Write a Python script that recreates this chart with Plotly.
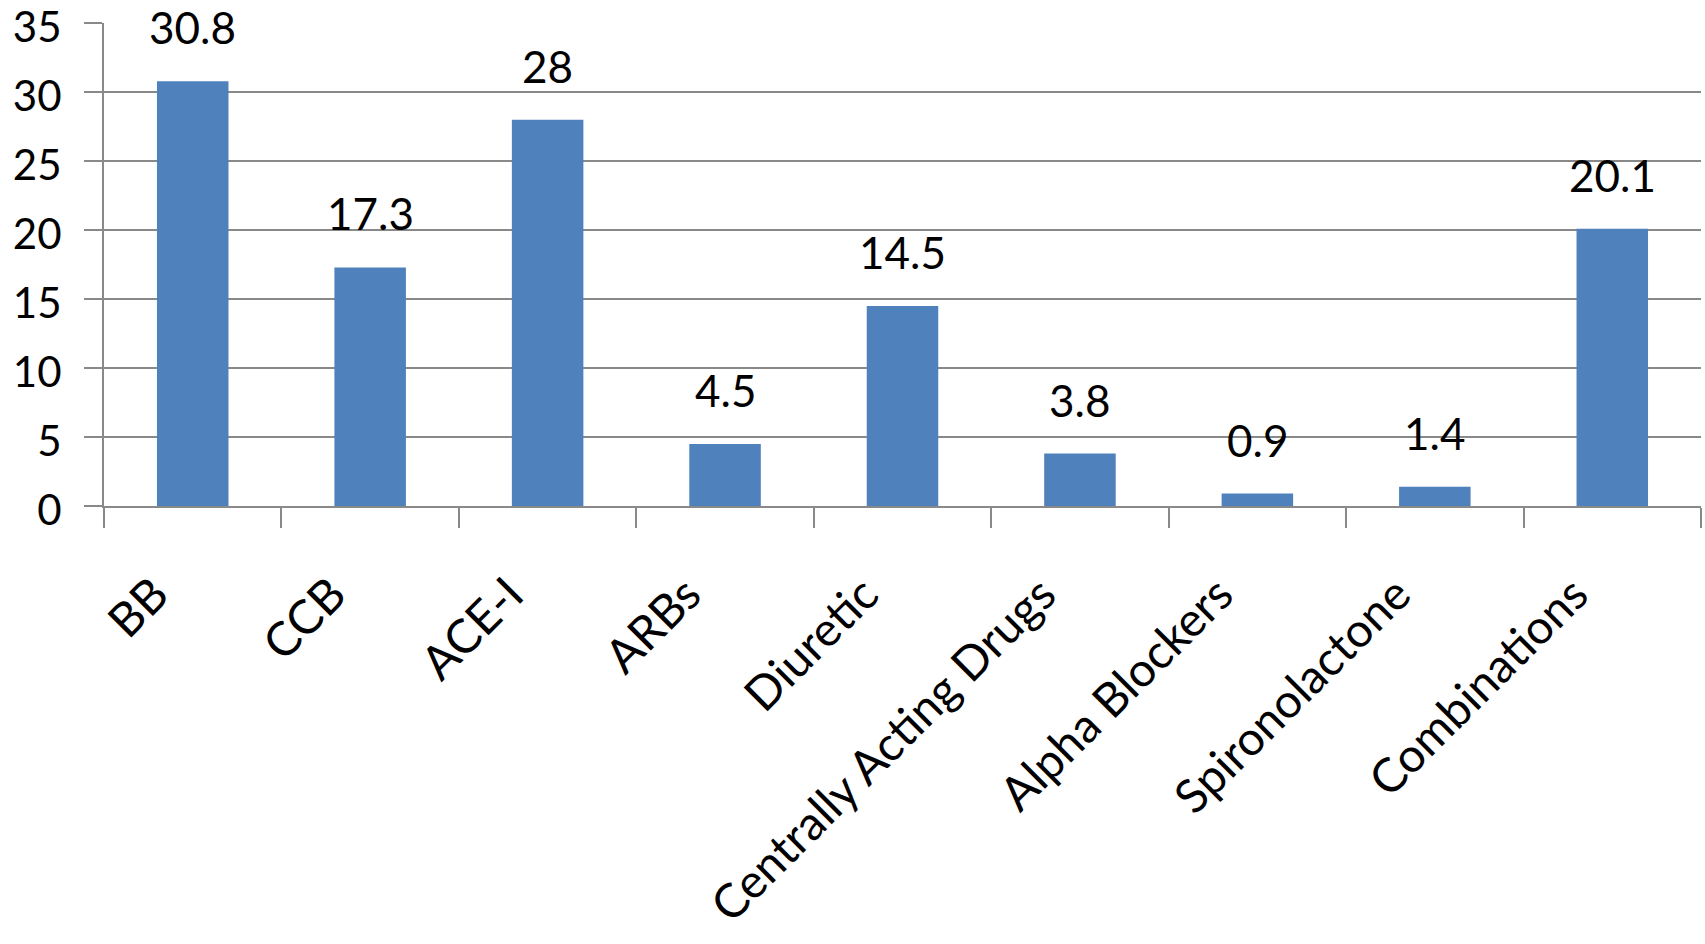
import plotly.graph_objects as go

categories = ["BB", "CCB", "ACE-I", "ARBs", "Diuretic", "Centrally Acting Drugs",
              "Alpha Blockers", "Spironolactone", "Combinations"]
values = [30.8, 17.3, 28, 4.5, 14.5, 3.8, 0.9, 1.4, 20.1]
value_labels = ["30.8", "17.3", "28", "4.5", "14.5", "3.8", "0.9", "1.4", "20.1"]
y_ticks = [0, 5, 10, 15, 20, 25, 30, 35]

FONT = "Lato"
BAR_COLOR = "#4F81BD"
GRID_COLOR = "#898989"

fig = go.Figure()
fig.add_trace(go.Bar(
    x=categories,
    y=values,
    marker=dict(color=BAR_COLOR, line=dict(width=0)),
    hoverinfo="x+y",
))

for c, v, t in zip(categories, values, value_labels):
    fig.add_annotation(
        x=c, y=v, text=t, showarrow=False,
        xanchor="center", yanchor="bottom", yshift=26,
        font=dict(family=FONT, size=44, color="#000000"),
    )

fig.update_layout(
    width=1705,
    height=944,
    margin=dict(l=104, r=4, t=23, b=438, pad=0, autoexpand=False),
    paper_bgcolor="white",
    plot_bgcolor="white",
    bargap=0.597,
    showlegend=False,
    font=dict(family=FONT, size=43, color="#000000"),
)

fig.update_xaxes(
    type="category",
    automargin=False,
    tickangle=-45,
    tickson="boundaries",
    ticks="outside",
    ticklen=20,
    tickwidth=2,
    tickcolor=GRID_COLOR,
    showline=True,
    linecolor=GRID_COLOR,
    linewidth=2,
    showgrid=False,
    tickfont=dict(family=FONT, size=47, color="#000000"),
    ticklabelstandoff=40,
    ticklabelshift=-38,
)

fig.update_yaxes(
    range=[0, 35.02],
    automargin=False,
    tickvals=y_ticks,
    ticktext=[str(v) for v in y_ticks],
    ticks="outside",
    ticklen=18,
    tickwidth=2,
    tickcolor=GRID_COLOR,
    showline=True,
    linecolor=GRID_COLOR,
    linewidth=2,
    showgrid=True,
    gridcolor=GRID_COLOR,
    gridwidth=2,
    zeroline=False,
    tickfont=dict(family=FONT, size=42, color="#000000"),
    ticklabelstandoff=14,
    ticklabelshift=4,
    ticklabeloverflow="allow",
)

fig.write_html("out.html")
